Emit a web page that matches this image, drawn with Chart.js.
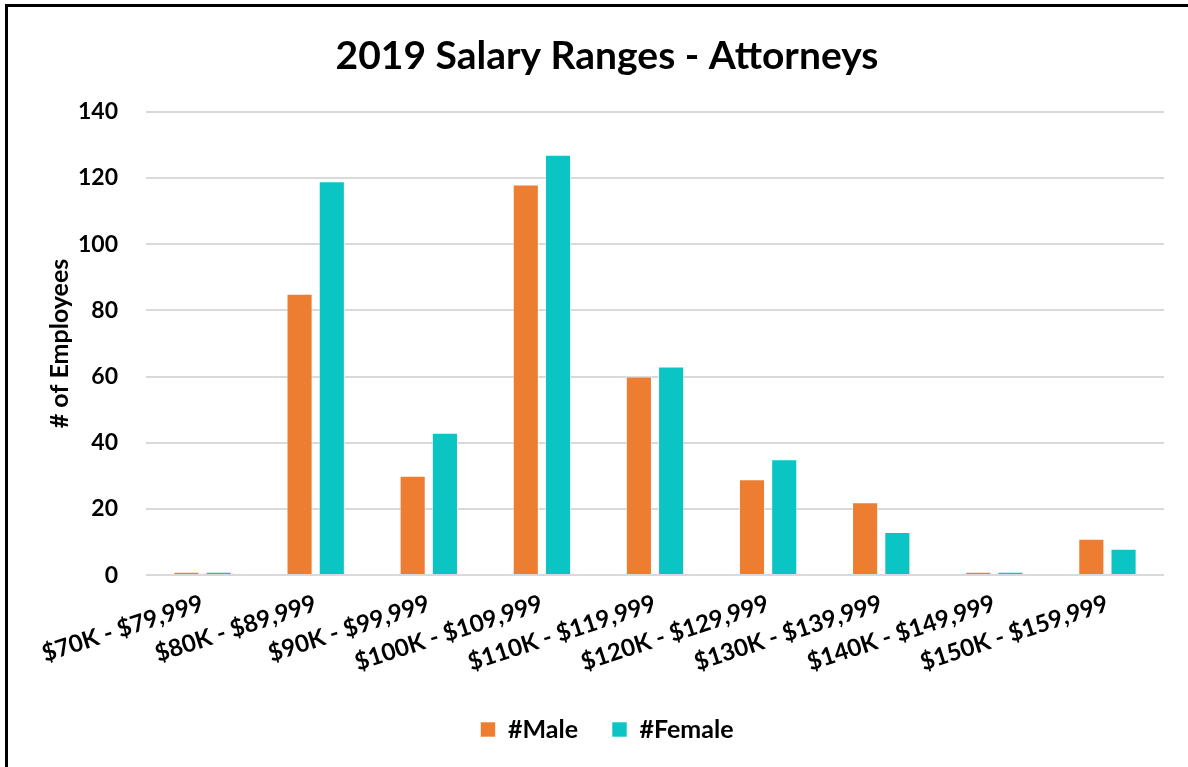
<!DOCTYPE html>
<html>
<head>
<meta charset="utf-8">
<script src="https://cdn.jsdelivr.net/npm/chart.js@4.4.0/dist/chart.umd.min.js"></script>
<style>
  body { margin: 0; background: #fff; }
  #wrap { position: relative; width: 1188px; height: 767px; }
  #frame { position: absolute; left: 5px; top: 4px; right: -10px; bottom: -10px;
           border-left: 3px solid #000; border-top: 3px solid #000; pointer-events: none; }
  canvas { position: absolute; left: 0; top: 0; }
</style>
</head>
<body>
<div id="wrap">
  <canvas id="grafico" width="1188" height="767"></canvas>
  <div id="frame"></div>
</div>
<script>
const faixas = ['$70K - $79,999', '$80K - $89,999', '$90K - $99,999', '$100K - $109,999',
  '$110K - $119,999', '$120K - $129,999', '$130K - $139,999', '$140K - $149,999', '$150K - $159,999'];
const masculino = [1, 85, 30, 118, 60, 29, 22, 1, 11];
const feminino = [1, 119, 43, 127, 63, 35, 13, 1, 8];
const tituloEixoY = '# of Employees';

const fonte = 'Lato, "Open Sans", sans-serif';

// o rótulo longo do eixo x alarga a caixa do eixo y, então o título do eixo y é desenhado à parte
const tituloY = {
    id: 'tituloY',
    afterDraw(chart) {
        const { ctx, chartArea } = chart;
        ctx.save();
        ctx.translate(60, (chartArea.top + chartArea.bottom) / 2);
        ctx.rotate(-Math.PI / 2);
        ctx.font = 'bold 25px ' + fonte;
        ctx.fillStyle = '#000';
        ctx.textAlign = 'center';
        ctx.textBaseline = 'middle';
        ctx.fillText(tituloEixoY, 0, 0);
        ctx.restore();
    }
};

new Chart(document.getElementById('grafico'), {
    type: 'bar',
    data: {
        labels: faixas,
        datasets: [{
            label: '#Male',
            data: masculino,
            backgroundColor: '#ED7D31',
            borderColor: 'rgba(255,255,255,0.6)',
            borderWidth: 1
        }, {
            label: '#Female',
            data: feminino,
            backgroundColor: '#0BC4C4',
            borderColor: 'rgba(255,255,255,0.6)',
            borderWidth: 1
        }]
    },
    plugins: [tituloY],
    options: {
        responsive: false,
        animation: false,
        categoryPercentage: 0.57,
        barPercentage: 0.81,
        layout: { padding: { left: 50, right: 24, top: 19, bottom: 15 } },
        plugins: {
            title: {
                display: true,
                text: '2019 Salary Ranges - Attorneys',
                color: '#000',
                font: { family: fonte, size: 39, weight: 'bold' },
                padding: { top: 14, bottom: 32 }
            },
            legend: {
                position: 'bottom',
                labels: {
                    color: '#000',
                    font: { family: fonte, size: 25, weight: 'bold' },
                    boxWidth: 15,
                    boxHeight: 15,
                    padding: 34
                }
            },
            tooltip: { enabled: false }
        },
        scales: {
            x: {
                grid: { display: false },
                border: { display: false },
                ticks: {
                    color: '#000',
                    padding: 6,
                    font: { family: fonte, size: 24, weight: 'bold' },
                    minRotation: 18,
                    maxRotation: 18,
                    autoSkip: false
                }
            },
            y: {
                min: 0,
                max: 140,
                ticks: {
                    stepSize: 20,
                    color: '#000',
                    padding: 28,
                    font: { family: fonte, size: 23, weight: 'bold' }
                },
                grid: { color: '#D9D9D9', lineWidth: 2, drawTicks: false },
                border: { display: false }
            }
        }
    }
});
</script>
</body>
</html>
